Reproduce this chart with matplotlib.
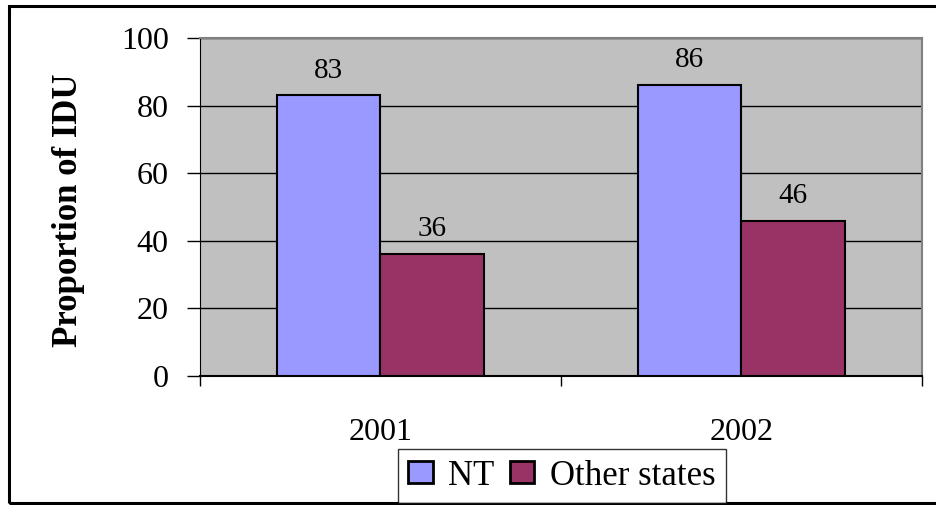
import matplotlib.pyplot as plt
import numpy as np
from matplotlib.patches import Rectangle

# data
years = ["2001", "2002"]
nt = [83, 86]
other = [36, 46]
series_names = ["NT", "Other states"]
colors = ["#9999FF", "#993366"]

plt.rcParams['font.family'] = ['Liberation Serif', 'DejaVu Serif']

fig = plt.figure(figsize=(9.37, 5.05), dpi=100)
W, H = 937, 505

# outer frame of the chart
fig.patches.append(Rectangle((9 / W, 2 / H), 1.2, (H - 8) / H, transform=fig.transFigure,
                             fill=False, edgecolor="black", linewidth=2.2, zorder=0))

ax = fig.add_axes([200 / W, (H - 376) / H, 722 / W, (376 - 38) / H])
ax.set_facecolor("#C0C0C0")

x = np.arange(len(years))
w = 1 / 3.5
b1 = ax.bar(x - w / 2, nt, w, color=colors[0], edgecolor="black", linewidth=1.5,
            label=series_names[0], zorder=3)
b2 = ax.bar(x + w / 2, other, w, color=colors[1], edgecolor="black", linewidth=1.5,
            label=series_names[1], zorder=3)

for bars, vals in [(b1, nt), (b2, other)]:
    for r, v in zip(bars, vals):
        ax.text(r.get_x() + r.get_width() / 2, v + 3.5, str(v), ha="center", va="bottom",
                fontsize=21)

ax.set_xlim(-0.5, 1.5)
ax.set_ylim(0, 100)
ax.set_yticks(range(0, 101, 20))
ax.yaxis.grid(True, color="black", linewidth=1.0, zorder=1)
ax.set_axisbelow(True)

ax.set_xticks([-0.5, 0.5, 1.5])
ax.set_xticklabels([])
ax.set_xticks(x, minor=True)
ax.set_xticklabels(years, minor=True)
ax.tick_params(axis="x", which="minor", length=0, pad=30, labelsize=23)
ax.tick_params(axis="x", which="major", length=7, direction="out", width=1)
ax.tick_params(axis="y", length=9.5, direction="out", width=1, labelsize=23, pad=13)

for s in ["top", "right"]:
    ax.spines[s].set_color("#808080")
    ax.spines[s].set_linewidth(1.5)
ax.spines["left"].set_color("black")
ax.spines["bottom"].set_color("black")
ax.spines["bottom"].set_linewidth(1.5)

ax.set_ylabel("Proportion of IDU", fontsize=25, fontweight="bold")
ax.yaxis.set_label_coords((85 - 200) / 722, 0.49)

leg = fig.legend(loc="lower center", bbox_to_anchor=(562 / W, 2 / H), ncol=2,
                 fontsize=25, frameon=True, fancybox=False, edgecolor="black",
                 handlelength=0.7, handleheight=0.6, handletextpad=0.45,
                 columnspacing=0.45, borderpad=0.3, borderaxespad=0)
leg.get_frame().set_linewidth(1.0)
for p in leg.get_patches():
    p.set_linewidth(2)

fig.savefig("out.png", dpi=100)
